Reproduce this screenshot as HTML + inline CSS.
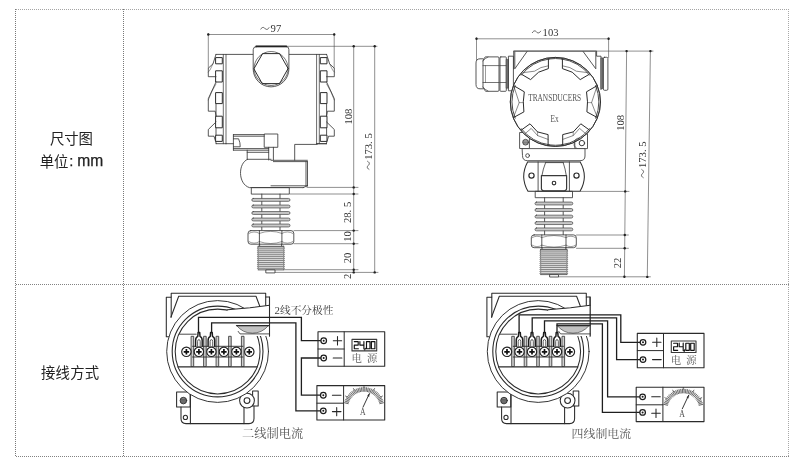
<!DOCTYPE html>
<html><head><meta charset="utf-8"><title>尺寸图</title>
<style>
html,body{margin:0;padding:0;background:#fff;}
body{width:800px;height:468px;overflow:hidden;font-family:"Liberation Sans",sans-serif;}
svg{display:block;filter:grayscale(1);}
</style></head><body>
<svg width="800" height="468" viewBox="0 0 800 468">
<rect width="800" height="468" fill="#fff"/>
<g stroke="#828282" stroke-width="1" stroke-dasharray="1 1" fill="none" shape-rendering="crispEdges">
<path d="M16,9.5H789" stroke="#a4a4a4"/><path d="M16,284.5H789 M16,456.5H789"/>
<path d="M15.5,9V457 M123.5,9V457" stroke="#787878"/><path d="M788.5,9V457" stroke="#a8a8a8"/>
</g>
<text x="50" y="143.8" font-family="'Liberation Sans', 'Noto Sans CJK SC', sans-serif" font-size="14.4" fill="#222" textLength="43" lengthAdjust="spacing">尺寸图</text>
<text x="39.8" y="166.5" font-family="'Liberation Sans', 'Noto Sans CJK SC', sans-serif" font-size="14.4" fill="#222" textLength="28.6" lengthAdjust="spacing">单位</text>
<text x="69.3" y="166.2" font-family="Liberation Sans, sans-serif" font-size="14.8" fill="#222" stroke="#222" stroke-width="0.25">:</text>
<text x="77.2" y="166.4" font-family="Liberation Sans, sans-serif" font-size="15.6" fill="#222" stroke="#222" stroke-width="0.25">mm</text>
<text x="41" y="377.8" font-family="'Liberation Sans', 'Noto Sans CJK SC', sans-serif" font-size="14.4" fill="#222" textLength="58.2" lengthAdjust="spacing">接线方式</text>
<g fill="none" stroke="#3a3a3a" stroke-width="0.85" stroke-linejoin="round" stroke-linecap="round">
<g stroke-width="0.6" stroke="#444">
<path d="M208.3,34.5H334.2 M208.3,33.5V68 M334.2,33.5V68"/>
<path d="M256,46.3H377"/>
<path d="M353.7,46.3V272.3 M374.7,46.3V272.3"/>
<path d="M307,187.4H358 M290,194H358 M294,230.6H358 M294,243.7H358 M284,269.7H358 M275,272.4H378"/>
</g>
<circle cx="208.3" cy="34.5" r="1.2" fill="#222" stroke="none"/>
<circle cx="334.2" cy="34.5" r="1.2" fill="#222" stroke="none"/>
<circle cx="353.7" cy="46.3" r="1.2" fill="#222" stroke="none"/>
<circle cx="374.7" cy="46.3" r="1.2" fill="#222" stroke="none"/>
<circle cx="353.7" cy="187.4" r="1.2" fill="#222" stroke="none"/>
<circle cx="353.7" cy="194" r="1.2" fill="#222" stroke="none"/>
<circle cx="353.7" cy="230.6" r="1.2" fill="#222" stroke="none"/>
<circle cx="353.7" cy="243.7" r="1.2" fill="#222" stroke="none"/>
<circle cx="353.7" cy="269.7" r="1.2" fill="#222" stroke="none"/>
<circle cx="353.7" cy="272.4" r="1.2" fill="#222" stroke="none"/>
<circle cx="374.7" cy="272.4" r="1.2" fill="#222" stroke="none"/>
<path d="M216,54.4H253.2"/>
<path d="M223.3,54.4V143.7 M226,54.4V143.7" stroke-width="0.75"/>
<rect x="216" y="57.6" width="6.3" height="6.2" stroke-width="1.0" stroke="#2c2c2c"/>
<rect x="216" y="70.8" width="6.3" height="11.2" stroke-width="1.0" stroke="#2c2c2c"/>
<rect x="216" y="92.6" width="6.3" height="11.0" stroke-width="1.0" stroke="#2c2c2c"/>
<rect x="216" y="116.2" width="6.3" height="11.6" stroke-width="1.0" stroke="#2c2c2c"/>
<rect x="216" y="135.2" width="6.3" height="6.2" stroke-width="1.0" stroke="#2c2c2c"/>
<path d="M216,54.4L213,63.8L208.3,68.2V76.7H216"/>
<path d="M213,63.8L210,70 208.3,72" stroke-width="0.5"/>
<path d="M216,82L208.3,98.7V111.2H215.2L216,116"/>
<path d="M216,84Q211,92 208.3,100" stroke-width="0.5"/>
<path d="M216,122L208.3,129.5V136.2H214L216.3,143.7"/>
<path d="M216,103.6V116.2 M216,127.8V135.2"/>
<path d="M216,143.7H226"/>
<g transform="translate(542.6,0) scale(-1,1)"><path d="M216,54.4H253.2"/>
<path d="M223.3,54.4V143.7 M226,54.4V143.7" stroke-width="0.75"/>
<rect x="216" y="57.6" width="6.3" height="6.2" stroke-width="1.0" stroke="#2c2c2c"/>
<rect x="216" y="70.8" width="6.3" height="11.2" stroke-width="1.0" stroke="#2c2c2c"/>
<rect x="216" y="92.6" width="6.3" height="11.0" stroke-width="1.0" stroke="#2c2c2c"/>
<rect x="216" y="116.2" width="6.3" height="11.6" stroke-width="1.0" stroke="#2c2c2c"/>
<rect x="216" y="135.2" width="6.3" height="6.2" stroke-width="1.0" stroke="#2c2c2c"/>
<path d="M216,54.4L213,63.8L208.3,68.2V76.7H216"/>
<path d="M213,63.8L210,70 208.3,72" stroke-width="0.5"/>
<path d="M216,82L208.3,98.7V111.2H215.2L216,116"/>
<path d="M216,84Q211,92 208.3,100" stroke-width="0.5"/>
<path d="M216,122L208.3,129.5V136.2H214L216.3,143.7"/>
<path d="M216,103.6V116.2 M216,127.8V135.2"/>
<path d="M216,143.7H226"/></g>
<path d="M256.4,46.6H286.2Q288.9,46.6 288.9,49.6V69A17.85,17.85 0 0 1 253.2,69V49.6Q253.2,46.6 256.4,46.6Z" fill="#fff"/>
<path d="M256.2,46.4H286.4" stroke-width="1.7" stroke="#222"/>
<circle cx="271.1" cy="68.5" r="17" stroke-width="0.7"/>
<path d="M254.1,68.5L262.6,53.6H279.6L288.1,68.5L279.6,83.6H262.6Z" stroke-width="1.0" stroke="#2c2c2c"/>
<path d="M226,143.7H233.4"/>
<path d="M233.4,134.6H264.6 M233.4,136.2H264.6 M233.4,148.6H268.7 M233.4,150.2H268.7 M233.4,134.6V150.2"/>
<path d="M233.4,138.8H238.6Q240.4,142.8 240.2,146.8H233.4"/>
<rect x="264.6" y="134" width="13.2" height="13.3" fill="#fff"/>
<path d="M268.7,147.3V160 M273.4,147.3V160"/>
<path d="M247.2,150.2V159.2 M247.2,152.3H268.7"/>
<path d="M316.7,143.7H326.6" />
<path d="M294.7,160.2V144.4H317.2"/>
<path d="M271,160.3H307.4 M273.4,161.6H307.4"/>
<path d="M247.6,159.3H271 M247.6,159.3C237.8,163 237.8,184 249.4,187.6H303.2 M307.5,161.6V185.8 M306,161.6V185.8 M271,185.8H307.5 M303.2,187.6L307.5,185.8"/>
<rect x="251.7" y="187.6" width="37.6" height="6.5"/>
<path d="M261.8,194.1V230.6 M280,194.1V230.6"/>
<rect x="251.8" y="198.45" width="38.2" height="2.9" rx="1.45" fill="#c9c9c9" stroke="#444" stroke-width="0.7"/>
<rect x="251.8" y="205.05" width="38.2" height="2.9" rx="1.45" fill="#c9c9c9" stroke="#444" stroke-width="0.7"/>
<rect x="251.8" y="211.55" width="38.2" height="2.9" rx="1.45" fill="#c9c9c9" stroke="#444" stroke-width="0.7"/>
<rect x="251.8" y="218.05" width="38.2" height="2.9" rx="1.45" fill="#c9c9c9" stroke="#444" stroke-width="0.7"/>
<rect x="251.8" y="224.05" width="38.2" height="2.9" rx="1.45" fill="#c9c9c9" stroke="#444" stroke-width="0.7"/>
<rect x="248" y="230.6" width="45.8" height="13.6" rx="2.8" fill="#fff"/>
<path d="M259.4,230.6V244.2 M281.9,230.6V244.2"/>
<path d="M259.4,233.4Q270.6,229.2 281.9,233.4 M259.4,241.6Q270.6,245.6 281.9,241.6 M248.6,233.6Q254,230.2 259.4,233.4 M248.6,241.4Q254,245 259.4,241.6 M281.9,233.4Q287.6,230.2 293.2,233.6 M281.9,241.6Q287.6,245 293.2,241.4" stroke-width="0.5"/>
<path d="M259.6,244.2V246.4 M281.6,244.2V246.4"/>
<rect x="258.2" y="246.3" width="25.5" height="23.6" fill="#dedede" stroke="none"/>
<path d="M258.2,246.9H283.7 M258.2,248.8H283.7 M258.2,250.8H283.7 M258.2,252.7H283.7 M258.2,254.7H283.7 M258.2,256.6H283.7 M258.2,258.6H283.7 M258.2,260.5H283.7 M258.2,262.5H283.7 M258.2,264.4H283.7 M258.2,266.4H283.7 M258.2,268.3H283.7" stroke="#6a6a6a" stroke-width="0.75"/>
<path d="M258.2,246.3L257.5,246.9L258.2,247.9L257.5,248.8L258.2,249.8L257.5,250.8L258.2,251.8L257.5,252.7L258.2,253.7L257.5,254.7L258.2,255.7L257.5,256.6L258.2,257.6L257.5,258.6L258.2,259.6L257.5,260.5L258.2,261.5L257.5,262.5L258.2,263.5L257.5,264.4L258.2,265.4L257.5,266.4L258.2,267.4L257.5,268.3L258.2,269.3 M283.7,246.3L284.4,246.9L283.7,247.9L284.4,248.8L283.7,249.8L284.4,250.8L283.7,251.8L284.4,252.7L283.7,253.7L284.4,254.7L283.7,255.7L284.4,256.6L283.7,257.6L284.4,258.6L283.7,259.6L284.4,260.5L283.7,261.5L284.4,262.5L283.7,263.5L284.4,264.4L283.7,265.4L284.4,266.4L283.7,267.4L284.4,268.3L283.7,269.3" stroke="#444" stroke-width="0.7"/>
<path d="M258.2,246.3H283.7 M258.2,269.9H283.7" stroke="#444" stroke-width="0.8"/>
<rect x="266.2" y="269.9" width="8.8" height="3" fill="#fff"/>
</g>
<path d="M260.60,29.40 C262.32,26.40 264.04,27.40 264.90,28.40 S267.48,30.40 269.20,27.40" fill="none" stroke="#3a3a3a" stroke-width="0.8"/>
<text x="270.6" y="32.2" font-family="Liberation Serif, serif" font-size="10.6" text-anchor="start" fill="#333" >97</text>
<text transform="translate(352.0,116.6) rotate(-90)" font-family="Liberation Serif, serif" font-size="10.6" text-anchor="middle" fill="#333" xml:space="preserve">108</text>
<g transform="translate(371.6,170.4) rotate(-90)"><path d="M0.80,-2.30 C2.50,-5.30 4.19,-4.30 5.04,-3.30 S7.58,-1.30 9.28,-4.30" fill="none" stroke="#3a3a3a" stroke-width="0.8"/><text x="10.6" y="0" font-family="Liberation Serif, serif" font-size="10.6" fill="#333" xml:space="preserve">173. 5</text></g>
<text transform="translate(350.5,212.4) rotate(-90)" font-family="Liberation Serif, serif" font-size="10.6" text-anchor="middle" fill="#333" xml:space="preserve">28. 5</text>
<text transform="translate(350.5,236.5) rotate(-90)" font-family="Liberation Serif, serif" font-size="10.6" text-anchor="middle" fill="#333" xml:space="preserve">10</text>
<text transform="translate(350.5,257.9) rotate(-90)" font-family="Liberation Serif, serif" font-size="10.6" text-anchor="middle" fill="#333" xml:space="preserve">20</text>
<text transform="translate(350.5,276.4) rotate(-90)" font-family="Liberation Serif, serif" font-size="10.6" text-anchor="middle" fill="#333" xml:space="preserve">2</text>
<g fill="none" stroke="#3a3a3a" stroke-width="0.85" stroke-linejoin="round" stroke-linecap="round">
<g stroke-width="0.6" stroke="#444">
<path d="M476.5,38.8H608.6 M476.5,37.8V60 M608.6,37.8V57.5"/>
<path d="M513.7,51.1H653"/>
<path d="M626.6,51.1L624.4,277 M650.4,51.1L647.3,277"/>
<path d="M580.5,191.4H629 M576.5,235H628.4 M576.5,248.3H628.4 M558.5,276.8H650.4"/>
</g>
<circle cx="476.5" cy="38.8" r="1.2" fill="#222" stroke="none"/>
<circle cx="608.6" cy="38.8" r="1.2" fill="#222" stroke="none"/>
<circle cx="626.6" cy="51.1" r="1.2" fill="#222" stroke="none"/>
<circle cx="650.4" cy="51.1" r="1.2" fill="#222" stroke="none"/>
<circle cx="625.2" cy="191.4" r="1.2" fill="#222" stroke="none"/>
<circle cx="624.8" cy="235" r="1.2" fill="#222" stroke="none"/>
<circle cx="624.7" cy="248.3" r="1.2" fill="#222" stroke="none"/>
<circle cx="624.4" cy="276.8" r="1.2" fill="#222" stroke="none"/>
<circle cx="647.3" cy="276.9" r="1.2" fill="#222" stroke="none"/>
<path d="M483,58.8H480Q476,58.8 476,63V84.5Q476,88.8 480,88.8H483" />
<path d="M485.6,56.9H498Q499,56.9 499,58V90.2Q499,91.3 498,91.3H485.6L483,87.6V60.6Z"/>
<path d="M483,65.6H499 M483,82.5H499 M483,61Q485,58 488,57 M483,87Q485,90 488,91" stroke-width="0.7"/>
<path d="M485.5,65.6V82.5" stroke-width="0.5"/>
<rect x="500" y="56.9" width="6.3" height="34.4" rx="0.8"/>
<path d="M500,65.6H506.3 M500,82.5H506.3" stroke-width="0.7"/>
<rect x="506.5" y="59.4" width="1.9" height="28.8" fill="#777" stroke="#333" stroke-width="0.5"/>
<rect x="508.8" y="56.2" width="4.6" height="34.6"/>
<path d="M513.7,69V51.1H596.6V56.2H601V89.6"/>
<path d="M514.8,52V68.8L527,51.6"/>
<path d="M583.2,51.6L595.8,68.8V52"/>
<rect x="601.2" y="57.9" width="2" height="30.6" fill="#777" stroke="#333" stroke-width="0.5"/>
<rect x="603.3" y="57.3" width="4.6" height="33" rx="1.2"/>
<rect x="520" y="132.5" width="9.4" height="16"/>
<rect x="575.2" y="133.6" width="12.3" height="15"/>
<ellipse cx="555.4" cy="101.9" rx="45.1" ry="44.5" fill="#fff"/>
<path d="M595.64,85.64A43.4,43.4 0 0 1 595.64,118.16 M589.60,128.62A43.4,43.4 0 0 1 561.44,144.88 M549.36,144.88A43.4,43.4 0 0 1 521.20,128.62 M515.16,118.16A43.4,43.4 0 0 1 515.16,85.64 M521.20,75.18A43.4,43.4 0 0 1 549.36,58.92 M561.44,58.92A43.4,43.4 0 0 1 589.60,75.18" stroke-width="0.9"/>
<path d="M549.36,58.92A43.4,43.4 0 0 1 561.44,58.92 M561.44,144.88A43.4,43.4 0 0 1 549.36,144.88" stroke-width="0.9"/>
<path d="M548.40,58.80L548.40,68.60L538.60,72.20L530.60,79.60L521.70,74.40" stroke-width="1.0" stroke="#2c2c2c"/>
<path d="M548.40,65.80L540.90,67.60L534.50,71.20L523.40,72.60" stroke-width="0.6"/>
<path d="M562.40,58.80L562.40,68.60L572.20,72.20L580.20,79.60L589.10,74.40" stroke-width="1.0" stroke="#2c2c2c"/>
<path d="M562.40,65.80L569.90,67.60L576.30,71.20L587.40,72.60" stroke-width="0.6"/>
<path d="M513.60,85.60L524.30,91.80L523.30,101.80L523.90,111.90L513.40,117.60" stroke-width="1.0" stroke="#2c2c2c"/>
<path d="M513.60,85.60L519.20,102.60L513.40,117.60" stroke-width="0.6"/>
<path d="M597.20,85.60L586.50,91.80L587.50,101.80L586.90,111.90L597.40,117.60" stroke-width="1.0" stroke="#2c2c2c"/>
<path d="M597.20,85.60L591.60,102.60L597.40,117.60" stroke-width="0.6"/>
<path d="M521.40,130.00L530.00,123.80L537.50,131.90L548.10,134.60L548.10,145.40" stroke-width="1.0" stroke="#2c2c2c"/>
<path d="M525.40,133.40L531.20,128.40L537.60,135.60L548.10,139.40" stroke-width="0.6"/>
<path d="M589.40,130.00L580.80,123.80L573.30,131.90L562.70,134.60L562.70,145.40" stroke-width="1.0" stroke="#2c2c2c"/>
<path d="M585.40,133.40L579.60,128.40L573.20,135.60L562.70,139.40" stroke-width="0.6"/>
<path d="M519.2,102.6H522.8 M591.6,102.6H588" stroke-width="0.5"/>
<path d="M537.5,131.9L537.6,135.6 M573.3,131.9L573.2,135.6" stroke-width="0.5"/>
<circle cx="525.6" cy="142.2" r="2.9" fill="#bbb" stroke-width="0.8"/>
<path d="M523.2,141H528 M523,142.4H528.2 M523.4,143.8H527.8" stroke-width="0.5"/>
<circle cx="581.9" cy="143.1" r="2.7" stroke-width="1"/>
<path d="M576.6,148.4A5.6,5.6 0 0 1 579.5,138" stroke-width="0.7"/>
<ellipse cx="555.4" cy="101.9" rx="45.1" ry="44.5" stroke-width="0.95" stroke="#303030"/>
<path d="M522.5,148.6H585V156Q585,160.7 580,160.7H527.5Q522.5,160.7 522.5,156Z" fill="#fff"/>
<circle cx="527.6" cy="155.6" r="1.9"/>
<path d="M527.6,161.9H580.2 M527.6,161.9Q519.6,176.5 528,191.3H580Q588.6,176.5 580.2,161.9" stroke-width="1.05" stroke="#2e2e2e"/>
<path d="M538.1,161.9V191.3 M569.4,161.9V191.3"/>
<path d="M545.6,162.6H563.2 M545.6,162.6Q543,169 541.9,175.6 M563.2,162.6Q565.4,169 566.3,175.6" stroke-width="0.8"/>
<path d="M541.4,175.6H566.6V188.4Q566.6,190.8 563,190.8H545Q541.4,190.8 541.4,188.4Z" stroke-width="1.2"/>
<circle cx="554" cy="183.1" r="1.8" stroke-width="1.1" stroke="#2a2a2a"/>
<circle cx="531.5" cy="175.6" r="2.6" stroke-width="1.2" stroke="#2a2a2a"/>
<circle cx="576.5" cy="175.6" r="2.6" stroke-width="1.2" stroke="#2a2a2a"/>
<rect x="535.6" y="191.3" width="36.9" height="6.4"/>
<path d="M544.6,197.7V234.9 M563.2,197.7V234.9"/>
<rect x="535" y="202.05" width="37.8" height="2.9" rx="1.45" fill="#c9c9c9" stroke="#444" stroke-width="0.7"/>
<rect x="535" y="208.55" width="37.8" height="2.9" rx="1.45" fill="#c9c9c9" stroke="#444" stroke-width="0.7"/>
<rect x="535" y="215.15" width="37.8" height="2.9" rx="1.45" fill="#c9c9c9" stroke="#444" stroke-width="0.7"/>
<rect x="535" y="221.65" width="37.8" height="2.9" rx="1.45" fill="#c9c9c9" stroke="#444" stroke-width="0.7"/>
<rect x="535" y="227.95" width="37.8" height="2.9" rx="1.45" fill="#c9c9c9" stroke="#444" stroke-width="0.7"/>
<rect x="531.3" y="234.9" width="45" height="12.8" rx="2.8" fill="#fff"/>
<path d="M541.8,234.9V247.7 M566,234.9V247.7"/>
<path d="M541.8,237.5Q554,233.5 566,237.5 M541.8,245.2Q554,249 566,245.2 M531.9,237.8Q537,234.6 541.8,237.5 M531.9,245Q537,248.4 541.8,245.2 M566,237.5Q571,234.6 575.8,237.8 M566,245.2Q571,248.4 575.8,245" stroke-width="0.5"/>
<path d="M542,247.7V249.5 M565.8,247.7V249.5"/>
<rect x="540.7" y="249.4" width="26.2" height="25.2" fill="#dedede" stroke="none"/>
<path d="M540.7,250.0H566.9 M540.7,251.9H566.9 M540.7,253.9H566.9 M540.7,255.8H566.9 M540.7,257.8H566.9 M540.7,259.7H566.9 M540.7,261.7H566.9 M540.7,263.6H566.9 M540.7,265.6H566.9 M540.7,267.5H566.9 M540.7,269.5H566.9 M540.7,271.4H566.9 M540.7,273.4H566.9" stroke="#6a6a6a" stroke-width="0.75"/>
<path d="M540.7,249.4L540.0,250.0L540.7,251.0L540.0,251.9L540.7,252.9L540.0,253.9L540.7,254.9L540.0,255.8L540.7,256.8L540.0,257.8L540.7,258.8L540.0,259.7L540.7,260.7L540.0,261.7L540.7,262.7L540.0,263.6L540.7,264.6L540.0,265.6L540.7,266.6L540.0,267.5L540.7,268.5L540.0,269.5L540.7,270.5L540.0,271.4L540.7,272.4L540.0,273.4L540.7,274.4 M566.9,249.4L567.6,250.0L566.9,251.0L567.6,251.9L566.9,252.9L567.6,253.9L566.9,254.9L567.6,255.8L566.9,256.8L567.6,257.8L566.9,258.8L567.6,259.7L566.9,260.7L567.6,261.7L566.9,262.7L567.6,263.6L566.9,264.6L567.6,265.6L566.9,266.6L567.6,267.5L566.9,268.5L567.6,269.5L566.9,270.5L567.6,271.4L566.9,272.4L567.6,273.4L566.9,274.4" stroke="#444" stroke-width="0.7"/>
<path d="M540.7,249.4H566.9 M540.7,274.6H566.9" stroke="#444" stroke-width="0.8"/>
<rect x="550" y="274.6" width="8.5" height="2.4" fill="#fff"/>
</g>
<path d="M532.20,32.90 C533.92,29.90 535.64,30.90 536.50,31.90 S539.08,33.90 540.80,30.90" fill="none" stroke="#3a3a3a" stroke-width="0.8"/>
<text x="542.6" y="35.6" font-family="Liberation Serif, serif" font-size="10.6" text-anchor="start" fill="#333" >103</text>
<text x="528.2" y="101.3" font-family="Liberation Serif, serif" font-size="9.6" fill="#555" textLength="53" lengthAdjust="spacingAndGlyphs">TRANSDUCERS</text>
<text x="550.6" y="121.9" font-family="Liberation Serif, serif" font-size="9.6" fill="#555" textLength="8.2" lengthAdjust="spacingAndGlyphs">Ex</text>
<text transform="translate(623.6,122.9) rotate(-90)" font-family="Liberation Serif, serif" font-size="10.6" text-anchor="middle" fill="#333" xml:space="preserve">108</text>
<g transform="translate(645.8,178.6) rotate(-90)"><path d="M0.80,-2.30 C2.50,-5.30 4.19,-4.30 5.04,-3.30 S7.58,-1.30 9.28,-4.30" fill="none" stroke="#3a3a3a" stroke-width="0.8"/><text x="10.6" y="0" font-family="Liberation Serif, serif" font-size="10.6" fill="#333" xml:space="preserve">173. 5</text></g>
<text transform="translate(621.2,263) rotate(-90)" font-family="Liberation Serif, serif" font-size="10.6" text-anchor="middle" fill="#333" xml:space="preserve">22</text>
<g fill="none" stroke="#2b2b2b" stroke-width="1.05" stroke-linejoin="round" stroke-linecap="round">
<path d="M171.2,297V293.2H265.7V297" />
<path d="M171.2,297V317 M166.3,297.3H171.2 M166.3,297.3V336.8H169 M265.7,297H269.5V336 M265.7,297V305.6"/>
<path d="M178.7,296.3H256L259.7,306 M178.7,296.3L170.9,317.2"/>
<rect x="176.6" y="392" width="13.6" height="15"/>
<path d="M181,407V418.6Q181,423.6 186,423.6H249Q254,423.6 254,418.6V406"/>
<path d="M190.4,392V423.6 M244,400V423.6"/>
<circle cx="185.4" cy="417.4" r="2.1"/>
<rect x="252.6" y="391" width="5.6" height="15"/>
<circle cx="247" cy="400.6" r="7.4" fill="#fff"/>
<circle cx="217.6" cy="351.5" r="50.9" fill="#fff" stroke-width="0.95"/>
<circle cx="217.6" cy="351.5" r="45.4" stroke-width="1.1"/>
<circle cx="217.6" cy="351.5" r="42.4" stroke-width="1.05"/>
<circle cx="183.4" cy="400.6" r="3.3" fill="#888" stroke-width="0.9"/>
<path d="M181,399.4H185.8 M180.6,400.8H186.2 M181.2,402.2H185.6" stroke="#333" stroke-width="0.5"/>
<circle cx="247" cy="400.6" r="2.9" stroke-width="1.1"/>
<path d="M227.5,309.7L250,307.7L269.6,305.3V336H238V332L233,326L227.5,312Z" fill="#fff" stroke="none"/>
<path d="M227.5,309.7L250,307.7L269.6,305.3"/>
<path d="M269.5,297V336"/>
<path d="M236.6,325.6H268.4Q262,333.2 252.4,333.2T236.6,325.6Z" fill="#c2c2c2" stroke="#444" stroke-width="0.7"/>
<path d="M236.6,325.6H269.5" stroke-width="1.1"/>
<path d="M238.2,331.4L240,333.9H269.5" stroke-width="0.8"/>
<path d="M179.6,334.2H196.2" stroke-width="0.85"/>
<path d="M178.2,366.9H257" stroke-width="1.4"/>
<rect x="191.5" y="336.3" width="2.2" height="30.2" fill="#cfcfcf" stroke="#333" stroke-width="0.85"/>
<rect x="204.0" y="336.3" width="2.2" height="30.2" fill="#cfcfcf" stroke="#333" stroke-width="0.85"/>
<rect x="216.5" y="336.3" width="2.2" height="30.2" fill="#cfcfcf" stroke="#333" stroke-width="0.85"/>
<rect x="229.0" y="336.3" width="2.2" height="30.2" fill="#cfcfcf" stroke="#333" stroke-width="0.85"/>
<rect x="241.8" y="336.3" width="2.2" height="30.2" fill="#cfcfcf" stroke="#333" stroke-width="0.85"/>
<path d="M192.6,346.3H242.9 M192.6,357H242.9" stroke-width="0.9"/>
<circle cx="186.4" cy="351.8" r="4.7" fill="#fff" stroke="#222" stroke-width="1.15"/>
<path d="M183.70000000000002,351.8H189.1 M186.4,349.1V354.5" stroke="#111" stroke-width="1.7" stroke-linecap="butt"/>
<circle cx="198.9" cy="351.8" r="4.7" fill="#fff" stroke="#222" stroke-width="1.15"/>
<path d="M196.20000000000002,351.8H201.6 M198.9,349.1V354.5" stroke="#111" stroke-width="1.7" stroke-linecap="butt"/>
<circle cx="211.4" cy="351.8" r="4.7" fill="#fff" stroke="#222" stroke-width="1.15"/>
<path d="M208.70000000000002,351.8H214.1 M211.4,349.1V354.5" stroke="#111" stroke-width="1.7" stroke-linecap="butt"/>
<circle cx="223.9" cy="351.8" r="4.7" fill="#fff" stroke="#222" stroke-width="1.15"/>
<path d="M221.20000000000002,351.8H226.6 M223.9,349.1V354.5" stroke="#111" stroke-width="1.7" stroke-linecap="butt"/>
<circle cx="236.4" cy="351.8" r="4.7" fill="#fff" stroke="#222" stroke-width="1.15"/>
<path d="M233.70000000000002,351.8H239.1 M236.4,349.1V354.5" stroke="#111" stroke-width="1.7" stroke-linecap="butt"/>
<circle cx="249.3" cy="351.8" r="4.7" fill="#fff" stroke="#222" stroke-width="1.15"/>
<path d="M246.60000000000002,351.8H252.0 M249.3,349.1V354.5" stroke="#111" stroke-width="1.7" stroke-linecap="butt"/>
<path d="M195.6,346.2V340.4Q195.6,337.4 197.8,336.4L198.1,332.4H199.70000000000002L200.0,336.4Q202.20000000000002,337.4 202.20000000000002,340.4V346.2" stroke="#1c1c1c" stroke-width="1.45" fill="#fff"/>
<path d="M197.6,346.2V341.4Q197.6,339.6 198.9,339.6T200.20000000000002,341.4V346.2" stroke="#333" stroke-width="0.8"/>
<path d="M208.1,346.2V340.4Q208.1,337.4 210.3,336.4L210.6,332.4H212.20000000000002L212.5,336.4Q214.70000000000002,337.4 214.70000000000002,340.4V346.2" stroke="#1c1c1c" stroke-width="1.45" fill="#fff"/>
<path d="M210.1,346.2V341.4Q210.1,339.6 211.4,339.6T212.70000000000002,341.4V346.2" stroke="#333" stroke-width="0.8"/>
</g>
<path d="M198.5,333V317.4H301.4V340.7H320.9" fill="none" stroke="#1e1e1e" stroke-width="1.3" stroke-linejoin="miter"/>
<path d="M211.6,333V322.8H295.9V410.8H320.5" fill="none" stroke="#1e1e1e" stroke-width="1.3" stroke-linejoin="miter"/>
<path d="M320.9,358H301.4V395.2H320.5" fill="none" stroke="#1e1e1e" stroke-width="1.3" stroke-linejoin="miter"/>
<g transform="translate(0,0)" fill="none" stroke="#2b2b2b" stroke-width="1.0" stroke-linejoin="round" stroke-linecap="round">
<rect x="318" y="331.8" width="66.7" height="34.4" stroke-width="1.1"/>
<path d="M344.2,331.8V366.2 M318,349H344.2" stroke-width="1"/>
<circle cx="323.7" cy="340.7" r="2.8" stroke="#1c1c1c" stroke-width="1.25"/><circle cx="323.7" cy="340.7" r="1.0" fill="#1c1c1c" stroke="none"/>
<circle cx="323.7" cy="358" r="2.8" stroke="#1c1c1c" stroke-width="1.25"/><circle cx="323.7" cy="358" r="1.0" fill="#1c1c1c" stroke="none"/>
<path d="M333.3,340.7H341.7 M337.5,336.5V344.9 M333.2,358H341.9" stroke="#262626" stroke-width="1.05"/>
<rect x="352" y="339.4" width="24.7" height="11.5" stroke="#3a3a3a" stroke-width="1.1"/>
<path d="M354.3,341.6H358.2V345.1H354.3V348.7H358.4 M359.9,341.5V345.1H363.9 M363.9,341.5V348.8 M365.3,348.3L364.8,349.9 M366.5,341.6H370V348.7H366.5Z M371.4,341.6H374.9V348.7H371.4Z" stroke="#111" stroke-width="1.15" stroke-linejoin="round" stroke-linecap="round"/>
</g>
<text x="351.5" y="361.9" font-family="'Liberation Serif', 'Noto Serif CJK SC', serif" font-size="10.4" fill="#5a5a5a">电</text>
<text x="367" y="361.9" font-family="'Liberation Serif', 'Noto Serif CJK SC', serif" font-size="10.4" fill="#5a5a5a">源</text>
<g transform="translate(0,0)" fill="none" stroke="#2b2b2b" stroke-width="1.0" stroke-linejoin="round" stroke-linecap="round">
<rect x="316.9" y="385.6" width="67.8" height="34.4" stroke-width="1.1"/>
<path d="M343.6,385.6V420 M316.9,403.2H343.6" stroke-width="1"/>
<circle cx="323.3" cy="395.2" r="2.8" stroke="#1c1c1c" stroke-width="1.25"/><circle cx="323.3" cy="395.2" r="1.0" fill="#1c1c1c" stroke="none"/>
<circle cx="323.3" cy="410.8" r="2.8" stroke="#1c1c1c" stroke-width="1.25"/><circle cx="323.3" cy="410.8" r="1.0" fill="#1c1c1c" stroke="none"/>
<path d="M332.4,395.2H341 M332.4,411.6H341 M336.7,407.4V415.8" stroke="#262626" stroke-width="1.05"/>
<path d="M348.18,403.66L344.59,402.76 M348.58,402.32L345.08,401.12 M349.09,401.02L345.70,399.53 M349.70,399.77L346.46,397.99 M350.43,398.58L347.34,396.53 M351.25,397.45L348.35,395.15 M352.16,396.40L349.47,393.85 M353.16,395.43L350.70,392.66 M354.24,394.54L352.03,391.58 M355.39,393.76L353.44,390.62 M356.61,393.07L354.93,389.77 M357.88,392.49L356.49,389.06 M359.19,392.03L358.10,388.49 M360.54,391.67L359.75,388.06 M361.91,391.43L361.44,387.76 M363.30,391.31L363.14,387.62 M364.70,391.31L364.86,387.62 M366.09,391.43L366.56,387.76 M367.46,391.67L368.25,388.06 M368.81,392.03L369.90,388.49 M370.12,392.49L371.51,389.06 M371.39,393.07L373.07,389.77 M372.61,393.76L374.56,390.62 M373.76,394.54L375.97,391.58 M374.84,395.43L377.30,392.66 M375.84,396.40L378.53,393.85 M376.75,397.45L379.65,395.15 M377.57,398.58L380.66,396.53 M378.30,399.77L381.54,397.99 M378.91,401.02L382.30,399.53 M379.42,402.32L382.92,401.12 M379.82,403.66L383.41,402.76" stroke="#1a1a1a" stroke-width="0.7"/>
<path d="M346.39,403.21A18.15,18.15 0 0 1 381.61,403.21" stroke-width="3.7" stroke="#999" stroke-opacity="0.3" stroke-linecap="butt"/>
<path d="M347.04,397.00L345.51,396.05 M354.30,390.11L353.43,388.53 M364.00,387.60L364.00,385.80 M373.70,390.11L374.57,388.53 M380.96,397.00L382.49,396.05" stroke-width="0.7"/>
<path d="M363,407.2L369.3,393.8" stroke="#222" stroke-width="0.9"/>
<path d="M369.3,393.8L367.6,395.8 368.8,396.4Z" fill="#222" stroke="#222" stroke-width="0.4"/>
</g>
<text x="362.8" y="414.9" font-family="Liberation Serif, serif" font-size="11" fill="#555" text-anchor="middle" textLength="5.6" lengthAdjust="spacingAndGlyphs">A</text>
<text x="274.4" y="313.6" font-family="Liberation Serif, serif" font-size="10.8" text-anchor="start" fill="#444" >2</text>
<text x="280" y="313.5" font-family="'Liberation Serif', 'Noto Serif CJK SC', serif" font-size="10.7" fill="#3c3c3c" textLength="53.4" lengthAdjust="spacing">线不分极性</text>
<text x="242" y="438.2" font-family="'Liberation Serif', 'Noto Serif CJK SC', serif" font-size="12.3" fill="#585858" textLength="61.4" lengthAdjust="spacing">二线制电流</text>
<g transform="translate(320.6,0)"><g fill="none" stroke="#2b2b2b" stroke-width="1.05" stroke-linejoin="round" stroke-linecap="round">
<path d="M171.2,297V293.2H265.7V297" />
<path d="M171.2,297V317 M166.3,297.3H171.2 M166.3,297.3V336.8H169 M265.7,297H269.5V336 M265.7,297V305.6"/>
<path d="M178.7,296.3H256L259.7,306 M178.7,296.3L170.9,317.2"/>
<rect x="176.6" y="392" width="13.6" height="15"/>
<path d="M181,407V418.6Q181,423.6 186,423.6H249Q254,423.6 254,418.6V406"/>
<path d="M190.4,392V423.6 M244,400V423.6"/>
<circle cx="185.4" cy="417.4" r="2.1"/>
<rect x="252.6" y="391" width="5.6" height="15"/>
<circle cx="247" cy="400.6" r="7.4" fill="#fff"/>
<circle cx="217.6" cy="351.5" r="50.9" fill="#fff" stroke-width="0.95"/>
<circle cx="217.6" cy="351.5" r="45.4" stroke-width="1.1"/>
<circle cx="217.6" cy="351.5" r="42.4" stroke-width="1.05"/>
<circle cx="183.4" cy="400.6" r="3.3" fill="#888" stroke-width="0.9"/>
<path d="M181,399.4H185.8 M180.6,400.8H186.2 M181.2,402.2H185.6" stroke="#333" stroke-width="0.5"/>
<circle cx="247" cy="400.6" r="2.9" stroke-width="1.1"/>
<path d="M227.5,309.7L250,307.7L269.6,305.3V336H238V332L233,326L227.5,312Z" fill="#fff" stroke="none"/>
<path d="M227.5,309.7L250,307.7L269.6,305.3"/>
<path d="M269.5,297V336"/>
<path d="M236.6,325.6H268.4Q262,333.2 252.4,333.2T236.6,325.6Z" fill="#c2c2c2" stroke="#444" stroke-width="0.7"/>
<path d="M236.6,325.6H269.5" stroke-width="1.1"/>
<path d="M238.2,331.4L240,333.9H269.5" stroke-width="0.8"/>
<path d="M179.6,334.2H196.2" stroke-width="0.85"/>
<path d="M178.2,366.9H257" stroke-width="1.4"/>
<rect x="191.5" y="336.3" width="2.2" height="30.2" fill="#cfcfcf" stroke="#333" stroke-width="0.85"/>
<rect x="204.0" y="336.3" width="2.2" height="30.2" fill="#cfcfcf" stroke="#333" stroke-width="0.85"/>
<rect x="216.5" y="336.3" width="2.2" height="30.2" fill="#cfcfcf" stroke="#333" stroke-width="0.85"/>
<rect x="229.0" y="336.3" width="2.2" height="30.2" fill="#cfcfcf" stroke="#333" stroke-width="0.85"/>
<rect x="241.8" y="336.3" width="2.2" height="30.2" fill="#cfcfcf" stroke="#333" stroke-width="0.85"/>
<path d="M192.6,346.3H242.9 M192.6,357H242.9" stroke-width="0.9"/>
<circle cx="186.4" cy="351.8" r="4.7" fill="#fff" stroke="#222" stroke-width="1.15"/>
<path d="M183.70000000000002,351.8H189.1 M186.4,349.1V354.5" stroke="#111" stroke-width="1.7" stroke-linecap="butt"/>
<circle cx="198.9" cy="351.8" r="4.7" fill="#fff" stroke="#222" stroke-width="1.15"/>
<path d="M196.20000000000002,351.8H201.6 M198.9,349.1V354.5" stroke="#111" stroke-width="1.7" stroke-linecap="butt"/>
<circle cx="211.4" cy="351.8" r="4.7" fill="#fff" stroke="#222" stroke-width="1.15"/>
<path d="M208.70000000000002,351.8H214.1 M211.4,349.1V354.5" stroke="#111" stroke-width="1.7" stroke-linecap="butt"/>
<circle cx="223.9" cy="351.8" r="4.7" fill="#fff" stroke="#222" stroke-width="1.15"/>
<path d="M221.20000000000002,351.8H226.6 M223.9,349.1V354.5" stroke="#111" stroke-width="1.7" stroke-linecap="butt"/>
<circle cx="236.4" cy="351.8" r="4.7" fill="#fff" stroke="#222" stroke-width="1.15"/>
<path d="M233.70000000000002,351.8H239.1 M236.4,349.1V354.5" stroke="#111" stroke-width="1.7" stroke-linecap="butt"/>
<circle cx="249.3" cy="351.8" r="4.7" fill="#fff" stroke="#222" stroke-width="1.15"/>
<path d="M246.60000000000002,351.8H252.0 M249.3,349.1V354.5" stroke="#111" stroke-width="1.7" stroke-linecap="butt"/>
<path d="M195.6,346.2V340.4Q195.6,337.4 197.8,336.4L198.1,332.4H199.70000000000002L200.0,336.4Q202.20000000000002,337.4 202.20000000000002,340.4V346.2" stroke="#1c1c1c" stroke-width="1.45" fill="#fff"/>
<path d="M197.6,346.2V341.4Q197.6,339.6 198.9,339.6T200.20000000000002,341.4V346.2" stroke="#333" stroke-width="0.8"/>
<path d="M208.1,346.2V340.4Q208.1,337.4 210.3,336.4L210.6,332.4H212.20000000000002L212.5,336.4Q214.70000000000002,337.4 214.70000000000002,340.4V346.2" stroke="#1c1c1c" stroke-width="1.45" fill="#fff"/>
<path d="M210.1,346.2V341.4Q210.1,339.6 211.4,339.6T212.70000000000002,341.4V346.2" stroke="#333" stroke-width="0.8"/>
<path d="M220.6,346.2V340.4Q220.6,337.4 222.8,336.4L223.1,332.4H224.70000000000002L225.0,336.4Q227.20000000000002,337.4 227.20000000000002,340.4V346.2" stroke="#1c1c1c" stroke-width="1.45" fill="#fff"/>
<path d="M222.6,346.2V341.4Q222.6,339.6 223.9,339.6T225.20000000000002,341.4V346.2" stroke="#333" stroke-width="0.8"/>
<path d="M233.1,346.2V340.4Q233.1,337.4 235.3,336.4L235.6,332.4H237.20000000000002L237.5,336.4Q239.70000000000002,337.4 239.70000000000002,340.4V346.2" stroke="#1c1c1c" stroke-width="1.45" fill="#fff"/>
<path d="M235.1,346.2V341.4Q235.1,339.6 236.4,339.6T237.70000000000002,341.4V346.2" stroke="#333" stroke-width="0.8"/>
</g></g>
<path d="M519.1,333.0 L519.1,314.8 L620.8,314.8 L620.8,342.3 L640.2,342.3" fill="none" stroke="#1e1e1e" stroke-width="1.3" stroke-linejoin="miter"/>
<path d="M532.2,333.0 L532.2,317.8 L616.6,317.8 L616.6,359.6 L640.2,359.6" fill="none" stroke="#1e1e1e" stroke-width="1.3" stroke-linejoin="miter"/>
<path d="M544.5,333.0 L544.5,320.8 L607.6,320.8 L607.6,396.8 L639.8,396.8" fill="none" stroke="#1e1e1e" stroke-width="1.3" stroke-linejoin="miter"/>
<path d="M557.0,333.0 L557.0,323.9 L602.4,323.9 L602.4,412.4 L639.8,412.4" fill="none" stroke="#1e1e1e" stroke-width="1.3" stroke-linejoin="miter"/>
<g transform="translate(319.3,1.6)" fill="none" stroke="#2b2b2b" stroke-width="1.0" stroke-linejoin="round" stroke-linecap="round">
<rect x="318" y="331.8" width="66.7" height="34.4" stroke-width="1.1"/>
<path d="M344.2,331.8V366.2 M318,349H344.2" stroke-width="1"/>
<circle cx="323.7" cy="340.7" r="2.8" stroke="#1c1c1c" stroke-width="1.25"/><circle cx="323.7" cy="340.7" r="1.0" fill="#1c1c1c" stroke="none"/>
<circle cx="323.7" cy="358" r="2.8" stroke="#1c1c1c" stroke-width="1.25"/><circle cx="323.7" cy="358" r="1.0" fill="#1c1c1c" stroke="none"/>
<path d="M333.3,340.7H341.7 M337.5,336.5V344.9 M333.2,358H341.9" stroke="#262626" stroke-width="1.05"/>
<rect x="352" y="339.4" width="24.7" height="11.5" stroke="#3a3a3a" stroke-width="1.1"/>
<path d="M354.3,341.6H358.2V345.1H354.3V348.7H358.4 M359.9,341.5V345.1H363.9 M363.9,341.5V348.8 M365.3,348.3L364.8,349.9 M366.5,341.6H370V348.7H366.5Z M371.4,341.6H374.9V348.7H371.4Z" stroke="#111" stroke-width="1.15" stroke-linejoin="round" stroke-linecap="round"/>
</g>
<text x="670.8" y="363.5" font-family="'Liberation Serif', 'Noto Serif CJK SC', serif" font-size="10.4" fill="#5a5a5a">电</text>
<text x="686.3" y="363.5" font-family="'Liberation Serif', 'Noto Serif CJK SC', serif" font-size="10.4" fill="#5a5a5a">源</text>
<g transform="translate(319.3,1.6)" fill="none" stroke="#2b2b2b" stroke-width="1.0" stroke-linejoin="round" stroke-linecap="round">
<rect x="316.9" y="385.6" width="67.8" height="34.4" stroke-width="1.1"/>
<path d="M343.6,385.6V420 M316.9,403.2H343.6" stroke-width="1"/>
<circle cx="323.3" cy="395.2" r="2.8" stroke="#1c1c1c" stroke-width="1.25"/><circle cx="323.3" cy="395.2" r="1.0" fill="#1c1c1c" stroke="none"/>
<circle cx="323.3" cy="410.8" r="2.8" stroke="#1c1c1c" stroke-width="1.25"/><circle cx="323.3" cy="410.8" r="1.0" fill="#1c1c1c" stroke="none"/>
<path d="M332.4,395.2H341 M332.4,411.6H341 M336.7,407.4V415.8" stroke="#262626" stroke-width="1.05"/>
<path d="M348.18,403.66L344.59,402.76 M348.58,402.32L345.08,401.12 M349.09,401.02L345.70,399.53 M349.70,399.77L346.46,397.99 M350.43,398.58L347.34,396.53 M351.25,397.45L348.35,395.15 M352.16,396.40L349.47,393.85 M353.16,395.43L350.70,392.66 M354.24,394.54L352.03,391.58 M355.39,393.76L353.44,390.62 M356.61,393.07L354.93,389.77 M357.88,392.49L356.49,389.06 M359.19,392.03L358.10,388.49 M360.54,391.67L359.75,388.06 M361.91,391.43L361.44,387.76 M363.30,391.31L363.14,387.62 M364.70,391.31L364.86,387.62 M366.09,391.43L366.56,387.76 M367.46,391.67L368.25,388.06 M368.81,392.03L369.90,388.49 M370.12,392.49L371.51,389.06 M371.39,393.07L373.07,389.77 M372.61,393.76L374.56,390.62 M373.76,394.54L375.97,391.58 M374.84,395.43L377.30,392.66 M375.84,396.40L378.53,393.85 M376.75,397.45L379.65,395.15 M377.57,398.58L380.66,396.53 M378.30,399.77L381.54,397.99 M378.91,401.02L382.30,399.53 M379.42,402.32L382.92,401.12 M379.82,403.66L383.41,402.76" stroke="#1a1a1a" stroke-width="0.7"/>
<path d="M346.39,403.21A18.15,18.15 0 0 1 381.61,403.21" stroke-width="3.7" stroke="#999" stroke-opacity="0.3" stroke-linecap="butt"/>
<path d="M347.04,397.00L345.51,396.05 M354.30,390.11L353.43,388.53 M364.00,387.60L364.00,385.80 M373.70,390.11L374.57,388.53 M380.96,397.00L382.49,396.05" stroke-width="0.7"/>
<path d="M363,407.2L369.3,393.8" stroke="#222" stroke-width="0.9"/>
<path d="M369.3,393.8L367.6,395.8 368.8,396.4Z" fill="#222" stroke="#222" stroke-width="0.4"/>
</g>
<text x="682.1" y="416.5" font-family="Liberation Serif, serif" font-size="11" fill="#555" text-anchor="middle" textLength="5.6" lengthAdjust="spacingAndGlyphs">A</text>
<text x="571.6" y="438.2" font-family="'Liberation Serif', 'Noto Serif CJK SC', serif" font-size="11.9" fill="#585858" textLength="59.5" lengthAdjust="spacing">四线制电流</text>
</svg>
</body></html>
